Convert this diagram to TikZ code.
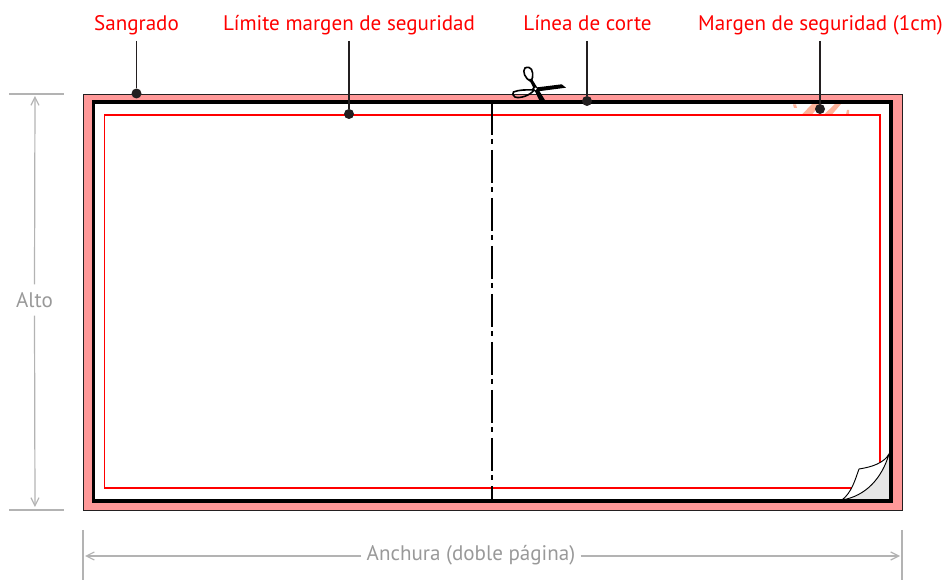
\documentclass[tikz,border=0pt]{standalone}
\usepackage{fontspec}
\setmainfont{PT Sans}
\usetikzlibrary{arrows.meta}
\definecolor{bleed}{HTML}{FF9999}
\definecolor{dimgrey}{HTML}{B3B3B3}
\definecolor{dimtext}{HTML}{999999}
\definecolor{labelred}{HTML}{FF0000}
\definecolor{darkdot}{HTML}{231F20}
\definecolor{fragment}{HTML}{FFB399}
\definecolor{curlgrey}{HTML}{E6E6E6}
\tikzset{
  x=0.75pt,y=-0.75pt,
  redlabel/.style={text=labelred,font=\fontsize{15.8}{18}\selectfont,inner sep=0pt,anchor=base},
  greylabel/.style={text=dimtext,font=\fontsize{15.8}{18}\selectfont,inner sep=2pt,anchor=center},
  dimline/.style={draw=dimgrey,line width=0.9pt},
  pointer/.style={draw=darkdot,line width=0.9pt},
  dotmark/.style={circle,fill=darkdot,inner sep=0pt,minimum size=7.5pt},
  dimtip/.style={draw=dimgrey,line width=0.9pt,-{Straight Barb[length=6pt,width=6pt]}},
}
\begin{document}
\begin{tikzpicture}
\useasboundingbox (0,0) rectangle (946,580);
% bleed
\draw[fill=bleed,draw=darkdot,line width=0.6pt] (83,94) rectangle (902,510);
\fill[white] (93,102) rectangle (891,501);
% fragments
\fill[fragment] (793,104.5) -- (796,104.5) -- (797,108) -- (794,108) -- cycle;
\fill[fragment] (802,114.5) -- (812,104) -- (821,104) -- (812,114.5) -- cycle;
\fill[fragment] (824,114.5) -- (835,104) -- (841,104) -- (832,114.5) -- cycle;
\fill[fragment] (846,114.5) -- (847,110) -- (849,110) -- (849,114.5) -- cycle;
% safety margin
\draw[red,line width=0.9pt] (104.5,115) rectangle (880,488);
% curl
\fill[curlgrey] (842,500) .. controls (866,496) and (882,478) .. (889,454) -- (889,500) -- cycle;
\draw[fill=white,draw=black,line width=0.7pt] (842,500) .. controls (852,492) and (855,480) .. (859,469) .. controls (872,467) and (884,463) .. (889,454) .. controls (882,478) and (866,496) .. (842,500) -- cycle;
% trim
\draw[black,line width=2.4pt] (93.5,102) rectangle (891,501);
% fold
\coordinate (foldA) at (492,102);
\coordinate (foldB) at (492,501);
\draw[black,line width=1pt,dash pattern=on 24.75pt off 3pt on 3.75pt off 4.5pt] (foldA) -- (foldB);
% scissors
\draw[black,line width=1.2pt] (525,68) .. controls (522,71) and (525,79) .. (531,81.5) .. controls (534,77) and (533,68) .. (529,67.5) .. controls (527.5,67.3) and (526,67.3) .. (525,68) -- cycle;
\draw[black,line width=1.2pt] (513.5,92) .. controls (518,90) and (527,89.5) .. (534,90) .. controls (531,95) and (520,99) .. (515,97) .. controls (512.5,96) and (512,93) .. (513.5,92) -- cycle;
\fill[black] (532,88) -- (561.7,84.3) -- (566,87.7) -- (535,91.7) -- cycle;
\fill[black] (529,79) -- (532,79) -- (546,101.7) -- (540,101.7) -- cycle;
\fill[white] (535.5,88.8) circle (1.3);
% labels
\node[redlabel] (lsang) at (136.5,31) {Sangrado};
\node[redlabel] (llim) at (349,31) {Límite margen de seguridad};
\node[redlabel] (lcut) at (587.5,31) {Línea de corte};
\node[redlabel] (lsafe) at (820.5,31) {Margen de seguridad (1cm)};
% dots
\node[dotmark] (dsang) at (136.5,93.5) {};
\node[dotmark] (dlim) at (349,114) {};
\node[dotmark] (dcut) at (587,101) {};
\node[dotmark] (dsafe) at (820,109) {};
\coordinate (psang) at (136.5,41);
\coordinate (plim) at (349,41);
\coordinate (pcut) at (587,41);
\coordinate (psafe) at (820,41);
\draw[pointer] (psang) -- (dsang);
\draw[pointer] (plim) -- (dlim);
\draw[pointer] (pcut) -- (dcut);
\draw[pointer] (psafe) -- (dsafe);
% dimensions
\coordinate (vt1) at (9,94); \coordinate (vt2) at (64,94);
\coordinate (vb1) at (9,510); \coordinate (vb2) at (64,510);
\draw[dimline] (vt1) -- (vt2);
\draw[dimline] (vb1) -- (vb2);
\coordinate (hl1) at (83,530); \coordinate (hl2) at (83,580);
\coordinate (hr1) at (902,530); \coordinate (hr2) at (902,580);
\draw[dimline] (hl1) -- (hl2);
\draw[dimline] (hr1) -- (hr2);
\coordinate (aT) at (35,96); \coordinate (aB) at (35,507);
\coordinate (aL) at (85,556); \coordinate (aR) at (900,556);
\node[greylabel] (alto) at (34.5,300) {Alto};
\node[greylabel,inner sep=0pt] (anch) at (471,555) {Anchura (doble página)};
\draw[dimtip] (alto.north) ++(0,-5) -- (aT);
\draw[dimtip] (alto.south) ++(0,5) -- (aB);
\draw[dimtip] (anch.west) ++(-5,1) -- (aL);
\draw[dimtip] (anch.east) ++(5,1) -- (aR);
\end{tikzpicture}
\end{document}
